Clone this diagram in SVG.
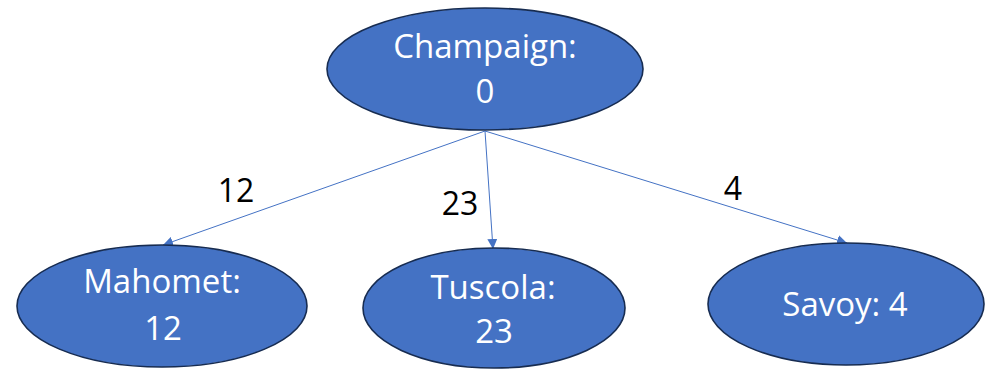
<svg xmlns="http://www.w3.org/2000/svg" width="988" height="372" viewBox="0 0 988 372">
  <style>
    .node ellipse { fill: #4472C4; stroke: #172C51; stroke-width: 1.6; }
    .node text { fill: #FFFFFF; font-family: "Open Sans", "Liberation Sans", sans-serif; font-size: 33px; text-anchor: middle; }
    .edge { stroke: #4472C4; stroke-width: 1; fill: none; marker-end: url(#arrow); }
    .weight { fill: #000000; font-family: "Open Sans", "Liberation Sans", sans-serif; font-size: 32px; text-anchor: middle; }
  </style>
  <defs>
    <marker id="arrow" viewBox="0 0 10 10" refX="10" refY="5" markerWidth="10" markerHeight="10" markerUnits="userSpaceOnUse" orient="auto">
      <path d="M0,0 L10,5 L0,10 Z" fill="#4472C4"/>
    </marker>
  </defs>
  <rect width="988" height="372" fill="#FFFFFF"/>

  <g id="connectors">
    <line class="edge" x1="485" y1="131" x2="163" y2="245"/>
    <line class="edge" x1="485" y1="131" x2="493" y2="249"/>
    <line class="edge" x1="485" y1="131" x2="847" y2="243"/>
    <text class="weight" x="236" y="202">12</text>
    <text class="weight" x="460" y="215">23</text>
    <text class="weight" x="733" y="200">4</text>
  </g>

  <g id="champaign" class="node">
    <ellipse cx="485" cy="69" rx="158" ry="61"/>
    <text x="485" y="58">Champaign:</text>
    <text x="485" y="103">0</text>
  </g>

  <g id="mahomet" class="node">
    <ellipse cx="162" cy="306" rx="145" ry="61"/>
    <text x="162" y="293">Mahomet:</text>
    <text x="163" y="340">12</text>
  </g>

  <g id="tuscola" class="node">
    <ellipse cx="494" cy="308" rx="131" ry="60"/>
    <text x="493" y="299">Tuscola:</text>
    <text x="494" y="343">23</text>
  </g>

  <g id="savoy" class="node">
    <ellipse cx="846" cy="304" rx="138" ry="61"/>
    <text x="845" y="316">Savoy: 4</text>
  </g>
</svg>
